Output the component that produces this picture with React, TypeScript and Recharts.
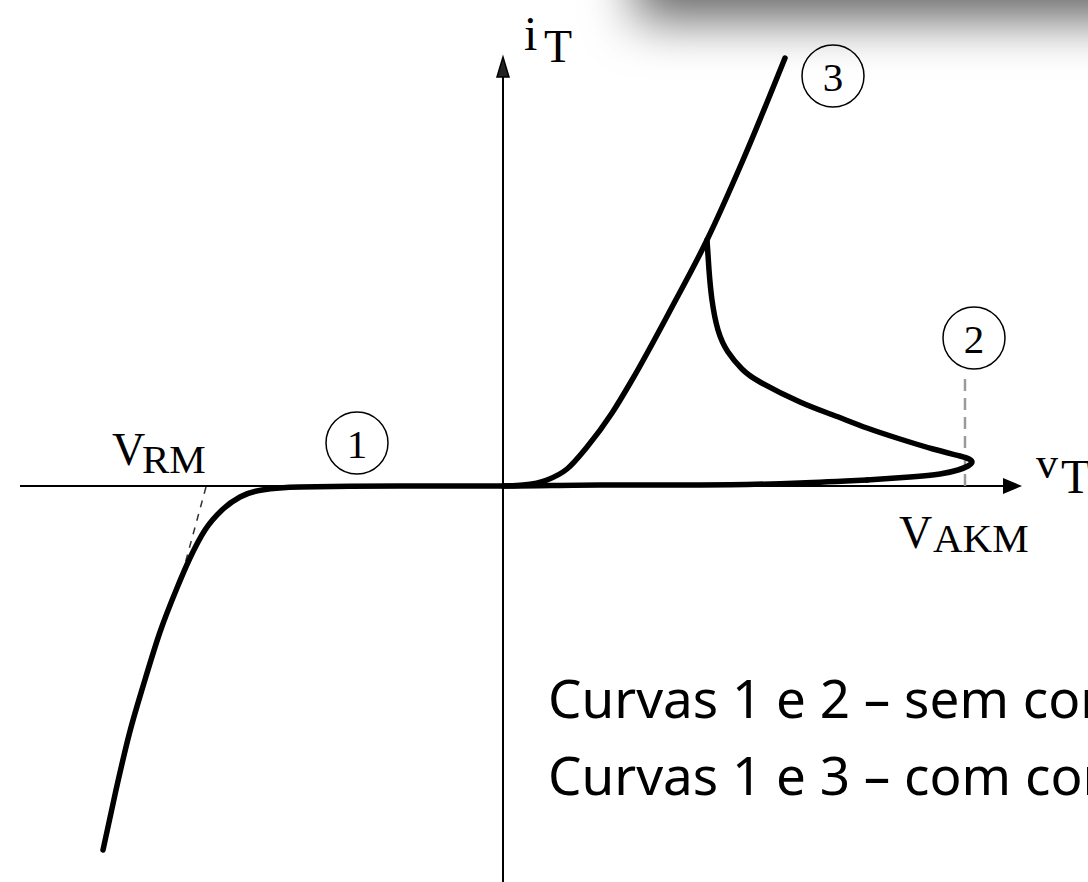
import React from 'react';
import { ComposedChart, Line, Scatter, XAxis, YAxis, ReferenceLine, ReferenceDot } from 'recharts';

// Thyristor static characteristic, arbitrary units (v: anode-cathode voltage, i: anode current)

// curve 1 (reverse) joined to curve 2 (forward blocking)
const blockingCurve = [
  { v: -4.0, i: -3.64 },
  { v: -3.87, i: -3.04 },
  { v: -3.74, i: -2.49 },
  { v: -3.59, i: -1.97 },
  { v: -3.43, i: -1.46 },
  { v: -3.26, i: -1.02 },
  { v: -3.13, i: -0.72 },
  { v: -2.98, i: -0.44 },
  { v: -2.81, i: -0.24 },
  { v: -2.63, i: -0.11 },
  { v: -2.41, i: -0.04 },
  { v: -2.03, i: -0.01 },
  { v: -1.03, i: 0.0 },
  { v: 0.0, i: 0.0 },
  { v: 0.97, i: 0.01 },
  { v: 1.97, i: 0.01 },
  { v: 2.97, i: 0.03 },
  { v: 3.64, i: 0.06 },
];

// curve 2 near V_AKM: breakover tip and negative resistance back to the on-state line
const breakoverCurve = [
  { v: 3.64, i: 0.06 },
  { v: 4.07, i: 0.09 },
  { v: 4.37, i: 0.12 },
  { v: 4.55, i: 0.16 },
  { v: 4.65, i: 0.2 },
  { v: 4.69, i: 0.24 },
  { v: 4.66, i: 0.27 },
  { v: 4.57, i: 0.3 },
  { v: 4.3, i: 0.37 },
  { v: 3.97, i: 0.47 },
  { v: 3.64, i: 0.58 },
  { v: 3.3, i: 0.71 },
  { v: 2.97, i: 0.84 },
  { v: 2.57, i: 1.04 },
  { v: 2.39, i: 1.17 },
  { v: 2.25, i: 1.34 },
  { v: 2.15, i: 1.56 },
  { v: 2.09, i: 1.86 },
  { v: 2.06, i: 2.16 },
  { v: 2.04, i: 2.46 },
];

// curve 3: on-state with gate current
const gateCurve = [
  { v: 0.0, i: 0.0 },
  { v: 0.2, i: 0.01 },
  { v: 0.44, i: 0.06 },
  { v: 0.64, i: 0.17 },
  { v: 0.84, i: 0.39 },
  { v: 1.09, i: 0.73 },
  { v: 1.29, i: 1.06 },
  { v: 1.69, i: 1.79 },
  { v: 2.04, i: 2.46 },
  { v: 2.4, i: 3.26 },
  { v: 2.82, i: 4.28 },
];

const vAxisTip = [{ v: 5.19, i: 0 }];
const iAxisTip = [{ v: 0, i: 4.29 }];

const captionLines = [
  'Curvas 1 e 2 – sem corrente de gatilho',
  'Curvas 1 e 3 – com corrente de gatilho',
];

const W = 1088;
const H = 882;
const serif = '"Liberation Serif", "Times New Roman", serif';

const RightArrow = (props: any) => {
  const { cx, cy } = props;
  return <path d={`M${cx},${cy} L${cx - 19},${cy - 8} L${cx - 19},${cy + 8} Z`} fill="#000" />;
};

const UpArrow = (props: any) => {
  const { cx, cy } = props;
  return (
    <path
      d={`M${cx},${cy} L${cx - 6},${cy + 20} L${cx + 6},${cy + 20} Z`}
      fill="#222"
      stroke="#000"
      strokeWidth={1.5}
    />
  );
};

const circledLabel = (n: string) => ({
  value: n,
  position: 'center' as const,
  fontSize: 41,
  fontFamily: serif,
  fill: '#000',
});

const curveProps = {
  stroke: '#000',
  strokeWidth: 5.5,
  dot: false,
  activeDot: false,
  strokeLinecap: 'round' as const,
  isAnimationActive: false,
};

const App: React.FC = () => {
  return (
    <div style={{ position: 'absolute', left: 0, top: 0, width: W, height: H, overflow: 'hidden', background: '#fff' }}>
      <ComposedChart width={W} height={H} margin={{ top: 0, right: 0, bottom: 0, left: 0 }}>
        <XAxis type="number" dataKey="v" domain={[-5.03, 5.85]} hide allowDataOverflow />
        <YAxis type="number" dataKey="i" domain={[-3.96, 4.86]} hide allowDataOverflow />

        <ReferenceLine segment={[{ x: -4.83, y: 0 }, { x: 5.02, y: 0 }]} stroke="#000" strokeWidth={2} />
        <ReferenceLine segment={[{ x: 0, y: -3.96 }, { x: 0, y: 4.12 }]} stroke="#000" strokeWidth={2} />
        <ReferenceLine
          segment={[{ x: 4.62, y: 0 }, { x: 4.62, y: 1.11 }]}
          stroke="#9a9a9a"
          strokeWidth={2.5}
          strokeDasharray="12 7"
        />
        <ReferenceLine
          segment={[{ x: -2.97, y: -0.01 }, { x: -3.21, y: -0.89 }]}
          stroke="#333"
          strokeWidth={1.5}
          strokeDasharray="7 7"
        />

        <Line data={blockingCurve} dataKey="i" type="monotone" {...curveProps} />
        <Line data={breakoverCurve} dataKey="i" type="natural" {...curveProps} />
        <Line data={gateCurve} dataKey="i" type="monotone" {...curveProps} />

        <Scatter data={vAxisTip} dataKey="i" shape={RightArrow} isAnimationActive={false} />
        <Scatter data={iAxisTip} dataKey="i" shape={UpArrow} isAnimationActive={false} />

        <ReferenceDot x={-1.46} y={0.43} r={31} fill="#fff" stroke="#000" strokeWidth={1.5} label={circledLabel('1')} />
        <ReferenceDot x={4.71} y={1.48} r={31} fill="#fff" stroke="#000" strokeWidth={1.5} label={circledLabel('2')} />
        <ReferenceDot x={3.3} y={4.1} r={31} fill="#fff" stroke="#000" strokeWidth={1.5} label={circledLabel('3')} ifOverflow="visible" />
      </ComposedChart>

      <svg width={W} height={H} style={{ position: 'absolute', left: 0, top: 0, pointerEvents: 'none' }}>
        <g fontFamily={serif} fill="#000">
          <text x={524} y={50} fontSize={48}>i</text>
          <text x={544} y={62} fontSize={46}>T</text>
          <text x={1036} y={478} fontSize={44}>v</text>
          <text x={1061} y={493} fontSize={48}>T</text>
          <text x={112} y={465} fontSize={46}>V</text>
          <text x={142} y={473} fontSize={41}>RM</text>
          <text x={899} y={548} fontSize={46}>V</text>
          <text x={933} y={552} fontSize={41}>AKM</text>
        </g>
        <g fontFamily='"Comic Sans MS", "Noto Sans", sans-serif' fontSize={53} fill="#000">
          {captionLines.map((t, k) => (
            <text key={k} x={548} y={718 + k * 77}>{t}</text>
          ))}
        </g>
      </svg>

      <div
        style={{
          position: 'absolute',
          left: 645,
          top: -100,
          width: 520,
          height: 100,
          boxShadow: '0 10px 50px 10px rgba(0,0,0,0.6)',
          pointerEvents: 'none',
        }}
      />
    </div>
  );
};

export default App;
